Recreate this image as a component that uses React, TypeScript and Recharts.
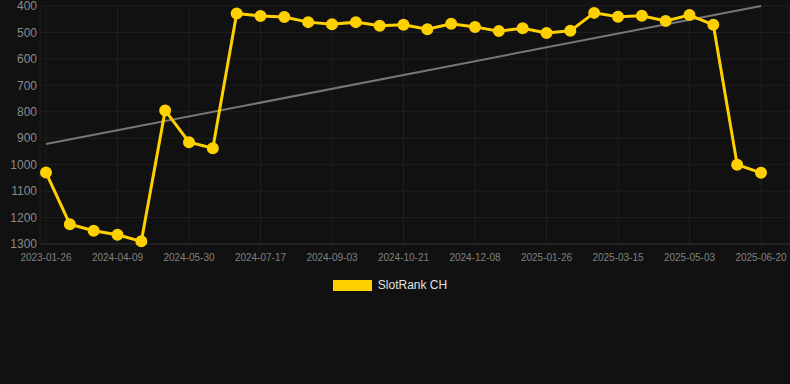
import {
	CartesianGrid,
	Legend,
	Line,
	LineChart,
	XAxis,
	YAxis,
} from "recharts";

const dates = [
	"2023-01-26", "2024-03-08", "2024-03-24", "2024-04-09", "2024-04-26",
	"2024-05-13", "2024-05-30", "2024-06-15", "2024-07-01", "2024-07-17",
	"2024-08-02", "2024-08-18", "2024-09-03", "2024-09-19", "2024-10-05",
	"2024-10-21", "2024-11-06", "2024-11-22", "2024-12-08", "2024-12-24",
	"2025-01-09", "2025-01-26", "2025-02-11", "2025-02-27", "2025-03-15",
	"2025-03-31", "2025-04-17", "2025-05-03", "2025-05-19", "2025-06-04",
	"2025-06-20",
];

const rank = [
	1030, 1225, 1250, 1265, 1290, 795, 915, 938, 428, 438,
	442, 461, 469, 461, 475, 471, 488, 467, 479, 495,
	484, 502, 494, 426, 441, 437, 457, 434, 471, 1000,
	1031,
];

// trend line: only its two ends
const trendStart = 922;
const trendEnd = 400;

const yTicks = [400, 500, 600, 700, 800, 900, 1000, 1100, 1200, 1300];

const data = dates.map((d, i) => ({
	date: d,
	rank: rank[i],
	trend: i === 0 ? trendStart : i === dates.length - 1 ? trendEnd : null,
}));

const LegendBox = () => (
	<div
		style={{
			display: "flex",
			justifyContent: "center",
			alignItems: "center",
			fontFamily: "Helvetica, Arial, sans-serif",
			fontSize: 12,
			color: "#e0e0e0",
		}}>
		<span
			style={{
				display: "inline-block",
				width: 39,
				height: 11,
				background: "#ffd000",
				marginRight: 6,
			}}
		/>
		SlotRank CH
	</div>
);

export default function App() {
	return (
		<div
			style={{
				position: "absolute",
				left: 0,
				top: 0,
				width: 790,
				height: 384,
				background: "#111111",
			}}>
			<LineChart
				width={790}
				height={384}
				data={data}
				margin={{ top: 6, right: 0, left: 0, bottom: 0 }}>
				<CartesianGrid stroke="#1f1f1f" vertical={true} />
				<XAxis
					dataKey="date"
					interval={2}
					tickLine={false}
					axisLine={{ stroke: "#2c2c2c" }}
					padding={{ left: 6, right: 29 }}
					height={126}
					tick={{ fill: "#808080", fontSize: 10, fontFamily: "Helvetica, Arial, sans-serif" }}
					tickMargin={4}
				/>
				<YAxis
					reversed
					domain={[400, 1300]}
					ticks={yTicks}
					interval={0}
					width={40}
					tickLine={false}
					axisLine={false}
					tickSize={0}
					tickMargin={3}
					tick={{ fill: "#8a8a8a", fontSize: 12, fontFamily: "Helvetica, Arial, sans-serif" }}
				/>
				<Legend
					content={<LegendBox />}
					wrapperStyle={{ top: 278, left: 0, width: 780 }}
				/>
				<Line
					dataKey="trend"
					stroke="#777"
					strokeWidth={2}
					dot={false}
					connectNulls
					legendType="none"
					isAnimationActive={false}
				/>
				<Line
					dataKey="rank"
					name="SlotRank CH"
					stroke="#ffd000"
					strokeWidth={3}
					dot={{ r: 5, fill: "#ffd000", stroke: "#ffd000", strokeWidth: 2 }}
					activeDot={false}
					isAnimationActive={false}
				/>
			</LineChart>
		</div>
	);
}
